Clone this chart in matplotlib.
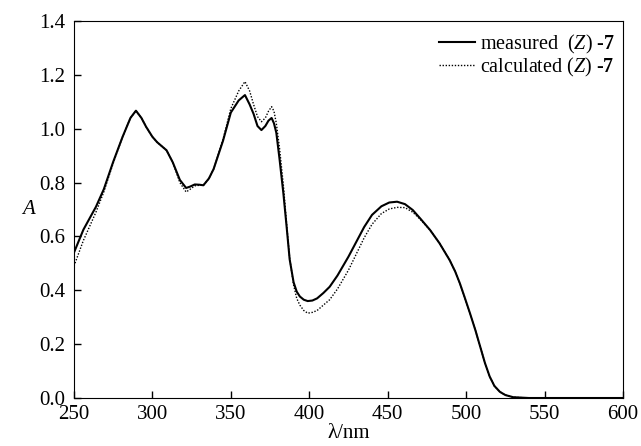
import matplotlib
matplotlib.use("Agg")
import matplotlib.pyplot as plt

# Schriften: Times-aehnlich
plt.rcParams['font.family'] = ['Liberation Serif', 'DejaVu Serif']
plt.rcParams['mathtext.fontset'] = 'custom'
plt.rcParams['mathtext.rm'] = 'Liberation Serif'
plt.rcParams['mathtext.it'] = 'Liberation Serif:italic'
plt.rcParams['mathtext.bf'] = 'Liberation Serif:bold'

# Wellenlaengen (nm)
wl = [250, 256, 264, 269, 275, 281, 286, 289.5, 293, 296, 300, 303, 309, 313,
      317.5, 321.5, 324, 327, 330, 332.5, 336, 339, 345, 350, 355, 359, 362,
      364.5, 367, 369.5, 372, 374, 376, 377.5, 379, 381, 383.5, 385.5, 387.5,
      390, 392, 394, 396.5, 399, 402, 405, 409, 413, 418, 420, 425, 430, 435,
      440, 446, 451, 456, 461, 466, 471, 477, 483, 489.5, 493, 496, 499, 502.5,
      506, 509, 512, 515, 518, 521.5, 525, 530, 540, 600]

# gemessen (Z)-7
a_meas = [0.54, 0.625, 0.71, 0.775, 0.877, 0.97, 1.04, 1.067, 1.04, 1.007, 0.97,
          0.95, 0.92, 0.875, 0.81, 0.78, 0.785, 0.793, 0.792, 0.79, 0.815, 0.85,
          0.955, 1.06, 1.105, 1.125, 1.09, 1.055, 1.01, 0.995, 1.01, 1.03, 1.04,
          1.02, 0.985, 0.89, 0.76, 0.64, 0.515, 0.43, 0.395, 0.377, 0.365, 0.36,
          0.362, 0.37, 0.39, 0.413, 0.455, 0.475, 0.525, 0.58, 0.635, 0.68,
          0.712, 0.726, 0.729, 0.72, 0.698, 0.665, 0.624, 0.575, 0.512, 0.47,
          0.426, 0.375, 0.314, 0.25, 0.19, 0.13, 0.08, 0.045, 0.023, 0.011,
          0.003, 0.0, 0.0]

# berechnet (Z)-7
a_calc = [0.49, 0.585, 0.69, 0.765, 0.872, 0.97, 1.04, 1.067, 1.04, 1.007, 0.97,
          0.95, 0.92, 0.875, 0.80, 0.765, 0.775, 0.788, 0.79, 0.79, 0.815, 0.85,
          0.96, 1.075, 1.14, 1.175, 1.14, 1.09, 1.045, 1.026, 1.04, 1.065, 1.082,
          1.065, 1.02, 0.93, 0.79, 0.65, 0.52, 0.42, 0.37, 0.345, 0.325, 0.315,
          0.318, 0.325, 0.345, 0.365, 0.405, 0.425, 0.475, 0.535, 0.595, 0.645,
          0.685, 0.702, 0.708, 0.707, 0.69, 0.662, 0.624, 0.575, 0.512, 0.47,
          0.426, 0.375, 0.314, 0.25, 0.19, 0.13, 0.08, 0.045, 0.023, 0.011,
          0.003, 0.0, 0.0]

xticks = [250, 300, 350, 400, 450, 500, 550, 600]
yticks = [0.0, 0.2, 0.4, 0.6, 0.8, 1.0, 1.2, 1.4]

fig = plt.figure(figsize=(6.41, 4.46), dpi=100)
ax = fig.add_axes([0.1154, 0.1076, 0.8565, 0.8453])

ax.plot(wl, a_meas, color='black', lw=1.5, label=r'measured  $(Z)$ -$\mathbf{7}$')
ax.plot(wl, a_calc, color='black', lw=1.0, ls=(0, (1, 1.2)),
        label=r'calculated $(Z)$ -$\mathbf{7}$')

ax.set_xlim(250, 600)
ax.set_ylim(0, 1.4)
ax.set_xticks(xticks)
ax.set_yticks(yticks)
ax.set_yticklabels([f"{v:.1f}" for v in yticks])
ax.tick_params(direction='in', length=5, width=1, labelsize=15)
ax.tick_params(axis='x', pad=5)
ax.tick_params(axis='y', pad=6)

ax.set_xlabel('λ/nm', fontsize=15, labelpad=0)
ax.set_ylabel('A', fontsize=15, style='italic', rotation=0, labelpad=8, va='center')

leg = ax.legend(loc='upper right', bbox_to_anchor=(1.0, 0.99), frameon=False,
                fontsize=14.5, handlelength=1.8, handletextpad=0.25,
                labelspacing=0.0, borderaxespad=0)

fig.savefig('out.png', dpi=100)
